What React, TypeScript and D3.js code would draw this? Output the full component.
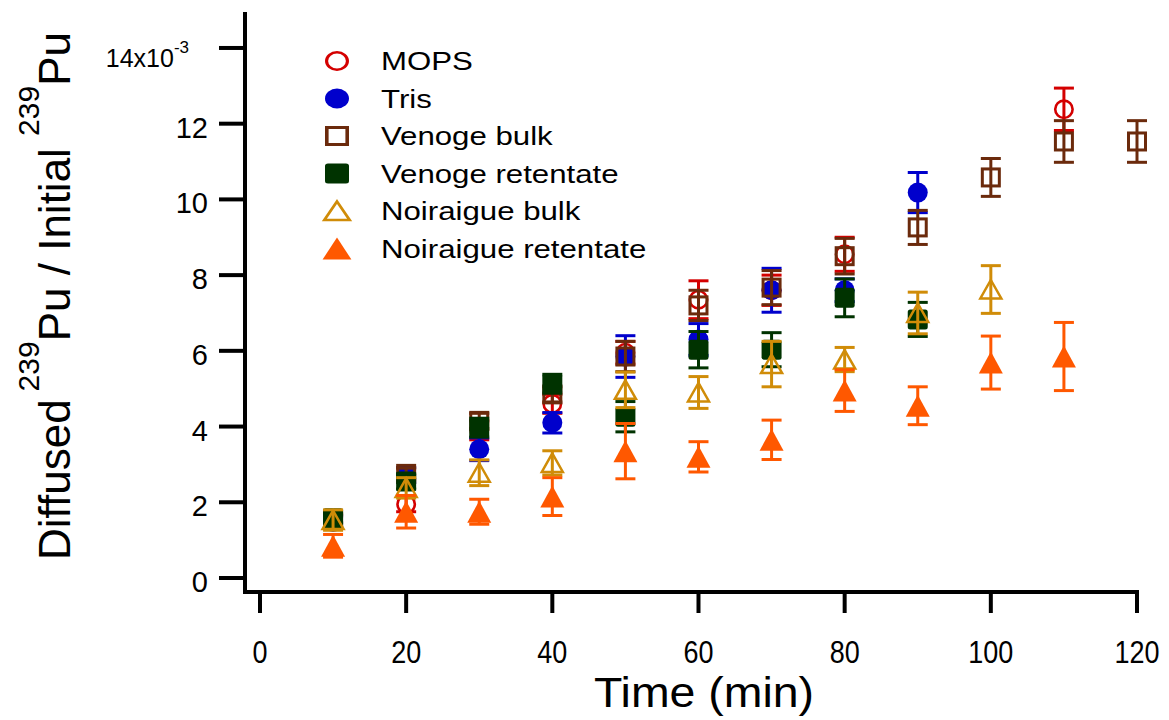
import React from "react";
import * as d3 from "d3";

const times = [10, 20, 30, 40, 50, 60, 70, 80, 90, 100, 110, 120];

const mopsValues = [1.5, 1.95, 3.9, 4.6, 5.95, 7.35, 7.6, 8.55, null, null, 12.38, null];
const mopsErrors = [0.15, 0.2, 0.25, 0.25, 0.3, 0.5, 0.4, 0.45, null, null, 0.56, null];

const trisValues = [1.48, 2.72, 3.4, 4.1, 5.85, 6.3, 7.6, 7.6, 10.18, null, null, null];
const trisErrors = [0.15, 0.2, 0.3, 0.27, 0.55, 0.42, 0.58, 0.3, 0.53, null, null, null];

const venogeBulkValues = [1.55, 2.75, 4.15, 4.85, 5.85, 7.2, 7.67, 8.5, 9.26, 10.58, 11.53, 11.53];
const venogeBulkErrors = [0.12, 0.15, 0.2, 0.2, 0.4, 0.4, 0.45, 0.47, 0.45, 0.5, 0.55, 0.55];

const venogeRetValues = [1.58, 2.55, 3.97, 5.13, 4.26, 6.03, 6.03, 7.4, 6.83, null, null, null];
const venogeRetErrors = [0.12, 0.2, 0.25, 0.25, 0.4, 0.48, 0.45, 0.5, 0.45, null, null, null];

const noirBulkValues = [1.53, 2.38, 2.78, 3.04, 4.97, 4.9, 5.65, 5.77, 7.0, 7.62, null, null];
const noirBulkErrors = [0.27, 0.27, 0.34, 0.32, 0.47, 0.42, 0.6, 0.32, 0.55, 0.63, null, null];

const noirRetValues = [0.85, 1.75, 1.75, 2.15, 3.35, 3.2, 3.65, 4.95, 4.55, 5.69, 5.85, null];
const noirRetErrors = [0.3, 0.43, 0.33, 0.5, 0.73, 0.4, 0.52, 0.55, 0.5, 0.7, 0.9, null];

const seriesNames = ["MOPS", "Tris", "Venoge bulk", "Venoge retentate", "Noiraigue bulk", "Noiraigue retentate"];
const seriesColors = ["#d40000", "#0000cc", "#6b2a0c", "#003300", "#d08c08", "#ff5800"];
const seriesShapes = ["circleOpen", "circleFilled", "squareOpen", "squareFilled", "triangleOpen", "triangleFilled"];

const yTicks = [0, 2, 4, 6, 8, 10, 12, 14];
const xTicks = [0, 20, 40, 60, 80, 100, 120];

const seriesValues = [mopsValues, trisValues, venogeBulkValues, venogeRetValues, noirBulkValues, noirRetValues];
const seriesErrors = [mopsErrors, trisErrors, venogeBulkErrors, venogeRetErrors, noirBulkErrors, noirRetErrors];

const x = d3.scaleLinear().domain([-2.05, 120]).range([245, 1137]);
const y = d3.scaleLinear().domain([-0.37, 14.95]).range([592, 12]);

function Marker({ shape, color, cx, cy, sx = 1 }: { shape: string; color: string; cx: number; cy: number; sx?: number }) {
  const t = `translate(${cx},${cy}) scale(${sx},1)`;
  switch (shape) {
    case "circleOpen":
      return <circle transform={t} r={8.7} fill="none" stroke={color} strokeWidth={2.6} />;
    case "circleFilled":
      return <circle transform={t} r={10} fill={color} />;
    case "squareOpen":
      return <rect transform={t} x={-8.5} y={-8.5} width={17} height={17} fill="none" stroke={color} strokeWidth={3} />;
    case "squareFilled":
      return <rect transform={t} x={-10} y={-10} width={20} height={20} rx={2.5} fill={color} />;
    case "triangleOpen":
      return <path transform={t} d="M0,-9.5L10.5,9L-10.5,9Z" fill="none" stroke={color} strokeWidth={2.5} strokeLinejoin="miter" />;
    case "triangleFilled":
      return <path transform={t} d="M0,-11L12,11L-12,11Z" fill={color} />;
    default:
      return null;
  }
}

export default function App() {
  const font = "'Liberation Sans', Arial, sans-serif";
  return (
    <svg width={1169} height={720} style={{ position: "absolute", left: 0, top: 0, background: "#fff" }} fontFamily={font}>
      <rect width={1169} height={720} fill="#fff" />
      {/* axes */}
      <line x1={245} y1={12} x2={245} y2={594} stroke="#000" strokeWidth={4} />
      <line x1={243} y1={592} x2={1139} y2={592} stroke="#000" strokeWidth={4} />
      {yTicks.map((t) => (
        <g key={"yt" + t}>
          <line x1={219} x2={245} y1={y(t)} y2={y(t)} stroke="#000" strokeWidth={4} />
          {t === 14 ? (
            <text x={189} y={y(t) + 19} fontSize={25} textAnchor="end" fill="#000">
              14x10
              <tspan fontSize={17} dy={-14} dx={0}>-3</tspan>
            </text>
          ) : (
            <text x={208} y={y(t) + 14} fontSize={29} textAnchor="end" fill="#000">
              {t}
            </text>
          )}
        </g>
      ))}
      {xTicks.map((t) => (
        <g key={"xt" + t}>
          <line x1={x(t)} x2={x(t)} y1={592} y2={613} stroke="#000" strokeWidth={4} />
          <text transform={`translate(${x(t)},663) scale(1,1.15)`} fontSize={27} textAnchor="middle" fill="#000">
            {t}
          </text>
        </g>
      ))}
      <text transform="translate(704,707) scale(1.08,1)" fontSize={43} textAnchor="middle" fill="#000">
        Time (min)
      </text>
      <text transform="translate(70,296) rotate(-90)" fontSize={44} textAnchor="middle" fill="#000">
        Diffused
        <tspan fontSize={30} dy={-31} dx={8}>239</tspan>
        <tspan dy={31}>Pu / Initial </tspan>
        <tspan fontSize={30} dy={-31}>239</tspan>
        <tspan dy={31}>Pu</tspan>
      </text>

      {/* data */}
      {seriesNames.map((name, si) => (
        <g key={name}>
          {times.map((tm, i) => {
            const v = seriesValues[si][i];
            const e = seriesErrors[si][i];
            if (v == null) return null;
            const cx = x(tm);
            const cy = y(v);
            const col = seriesColors[si];
            return (
              <g key={i}>
                {e != null && (
                  <g stroke={col} strokeWidth={3}>
                    <line x1={cx} x2={cx} y1={y(v + e)} y2={y(v - e)} />
                    <line x1={cx - 10} x2={cx + 10} y1={y(v + e)} y2={y(v + e)} />
                    <line x1={cx - 10} x2={cx + 10} y1={y(v - e)} y2={y(v - e)} />
                  </g>
                )}
                <Marker shape={seriesShapes[si]} color={col} cx={cx} cy={cy} />
              </g>
            );
          })}
        </g>
      ))}

      {/* legend */}
      {seriesNames.map((name, si) => {
        const ly = 61 + si * 37.5;
        return (
          <g key={"lg" + name}>
            <Marker shape={seriesShapes[si]} color={seriesColors[si]} cx={337} cy={ly} sx={1.2} />
            <text transform={`translate(381,${ly + 9}) scale(1.2,1)`} fontSize={26} fill="#000">
              {name}
            </text>
          </g>
        );
      })}
    </svg>
  );
}
